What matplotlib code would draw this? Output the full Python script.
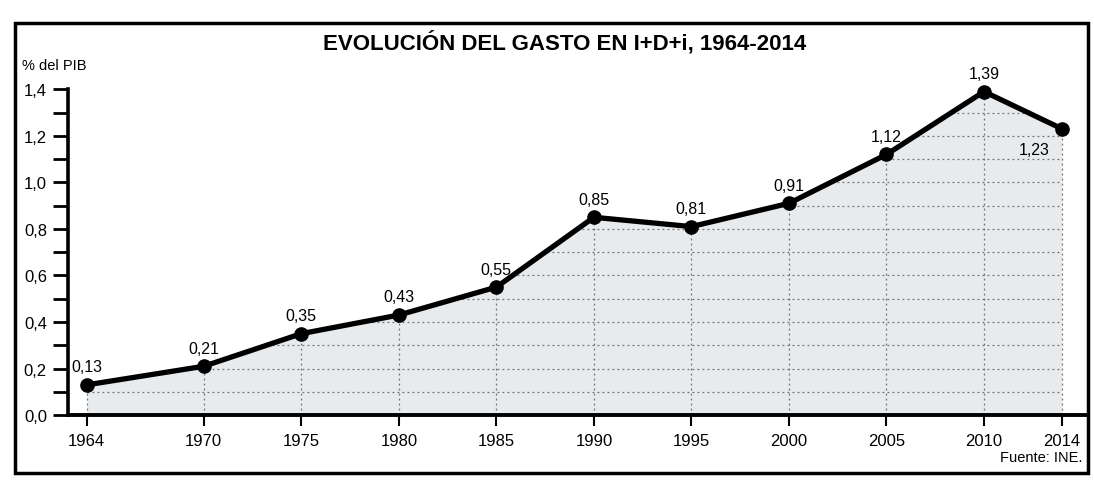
import numpy as np
import matplotlib.pyplot as plt
from matplotlib.patches import Rectangle

plt.rcParams['font.family'] = ['Liberation Sans', 'DejaVu Sans']

# gasto en I+D+i, % del PIB
years = [1964, 1970, 1975, 1980, 1985, 1990, 1995, 2000, 2005, 2010, 2014]
gasto = [0.13, 0.21, 0.35, 0.43, 0.55, 0.85, 0.81, 0.91, 1.12, 1.39, 1.23]
y_ticks = [0.0, 0.2, 0.4, 0.6, 0.8, 1.0, 1.2, 1.4]
y_minor = [0.1, 0.3, 0.5, 0.7, 0.9, 1.1, 1.3]


def coma(v, nd=2):
    return f'{v:.{nd}f}'.replace('.', ',')


fig = plt.figure(figsize=(10.94, 4.89), dpi=100)
ax = fig.add_axes([0.062, 0.149, 0.9325, 0.714])

# sombreado bajo la curva con la retícula punteada recortada
poly = ax.fill_between(years, 0, gasto, color='#e8ebee', lw=0, zorder=1)
clip = poly.get_paths()[0]
for h in np.arange(0.1, 1.45, 0.1):
    ln, = ax.plot([years[0], years[-1]], [h, h], ls=(0, (1.5, 2.5)), lw=0.9,
                  color='#707070', zorder=2)
    ln.set_clip_path(clip, ax.transData)
ax.vlines(years, 0, gasto, linestyles=(0, (1.5, 2.5)), lw=0.9,
          color='#707070', zorder=2)

ax.plot(years, gasto, color='black', lw=3.8, marker='o', ms=9.5, zorder=4)

for x, v in zip(years, gasto):
    if x == 2014:
        ax.annotate(coma(v), (x, v), xytext=(-20, -15), textcoords='offset points',
                    ha='center', va='center', fontsize=11.5)
    else:
        ax.annotate(coma(v), (x, v), xytext=(0, 13), textcoords='offset points',
                    ha='center', va='center', fontsize=11.5)

ax.set_xlim(1963.03, 2015.33)
ax.set_ylim(0, 1.5)
ax.set_xticks(years)
ax.set_xticklabels([str(y) for y in years])
ax.set_yticks(y_ticks)
ax.set_yticklabels([coma(t, 1) for t in y_ticks])
ax.set_yticks(y_minor, minor=True)

for s in ['top', 'right']:
    ax.spines[s].set_visible(False)
ax.spines['left'].set_linewidth(2.6)
ax.spines['bottom'].set_linewidth(2.8)
ax.spines['left'].set_bounds(0, 1.4)

ax.tick_params(axis='y', which='both', direction='out', length=11, width=2,
               labelsize=12, pad=4)
ax.tick_params(axis='x', direction='out', length=8, width=1.5, labelsize=12, pad=5)
ax.patch.set_alpha(0)

fig.text(0.516, 0.912, 'EVOLUCIÓN DEL GASTO EN I+D+i, 1964-2014',
         ha='center', va='center', fontsize=16, weight='bold')
fig.text(22 / 1094, 0.865, '% del PIB', ha='left', va='center', fontsize=10.5)
fig.text(1082 / 1094, 1 - 458 / 489, 'Fuente: INE.', ha='right', va='center',
         fontsize=10.5)

fig.patches.append(Rectangle((15 / 1094, 15 / 489), 1073 / 1094, 450 / 489,
                             transform=fig.transFigure, fill=False,
                             lw=2.5, ec='black'))

fig.savefig('out.png', dpi=100)
